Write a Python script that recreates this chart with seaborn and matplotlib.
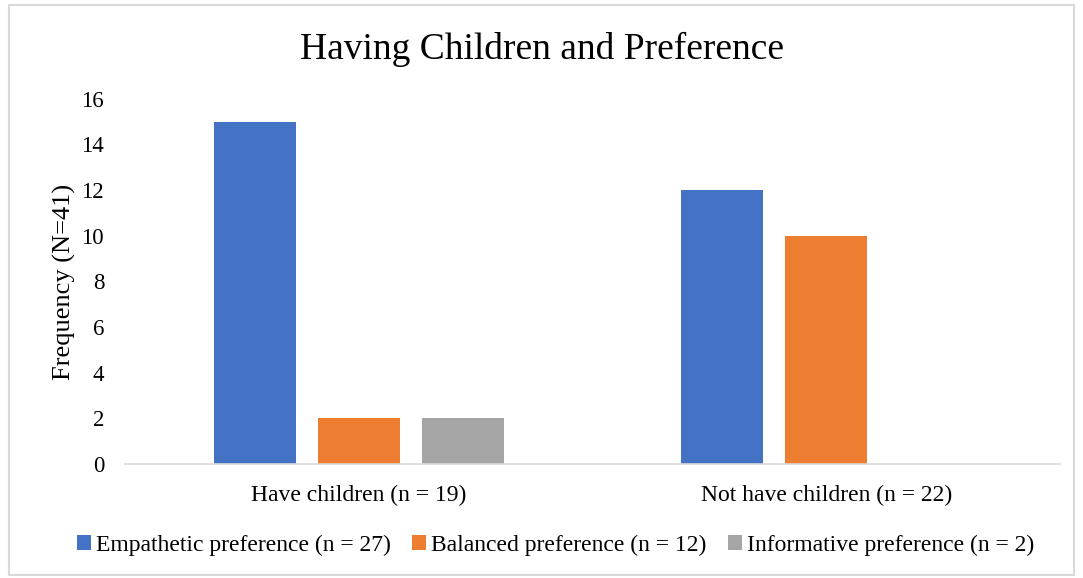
import pandas as pd
import seaborn as sns
import matplotlib.pyplot as plt
from matplotlib.patches import Rectangle

# data
groups = ['Have children (n = 19)', 'Not have children (n = 22)']
preferences = ['Empathetic preference (n = 27)',
               'Balanced preference (n = 12)',
               'Informative preference (n = 2)']
empathetic = [15, 12]
balanced = [2, 10]
informative = [2, 0]
colors = ['#4472C4', '#ED7D31', '#A5A5A5']

df = pd.DataFrame({
    'group': groups * 3,
    'pref': [p for p in preferences for _ in groups],
    'freq': empathetic + balanced + informative,
})

sns.set_theme(style='white')
plt.rcParams['font.family'] = ['Liberation Serif', 'DejaVu Serif']
plt.rcParams['text.color'] = 'black'
plt.rcParams['axes.labelcolor'] = 'black'
plt.rcParams['xtick.color'] = 'black'
plt.rcParams['ytick.color'] = 'black'

fig = plt.figure(figsize=(10.83, 5.78), dpi=100)
ax = fig.add_axes([0.1154, 0.197, 0.8635, 0.632])

sns.barplot(data=df, x='group', y='freq', hue='pref', hue_order=preferences,
            palette=colors, saturation=1, width=0.667, gap=0.21, linewidth=0, ax=ax)

ax.set_ylim(0, 16)
ax.set_yticks(range(0, 17, 2))
ax.set_xlabel('')
ax.set_ylabel('Frequency (N=41)', fontsize=19, labelpad=4)
ax.tick_params(axis='y', labelsize=16.5, length=0, pad=15)
ax.tick_params(axis='x', labelsize=17, length=0, pad=15)
for s in ['top', 'right', 'left']:
    ax.spines[s].set_visible(False)
ax.spines['bottom'].set_color('#D9D9D9')
ax.spines['bottom'].set_linewidth(1.2)

fig.suptitle('Having Children and Preference', fontsize=27, y=0.945)

ax.legend(loc='center', bbox_to_anchor=(0.513, 0.057), bbox_transform=fig.transFigure,
          ncol=3, frameon=False, fontsize=17, handlelength=0.6, handleheight=0.6,
          handletextpad=0.2, columnspacing=0.9)

fig.patches.append(Rectangle((0.008, 0.006), 0.984, 0.986, transform=fig.transFigure,
                             fill=False, edgecolor='#D9D9D9', linewidth=1.5))

fig.savefig('out.png', dpi=100)
